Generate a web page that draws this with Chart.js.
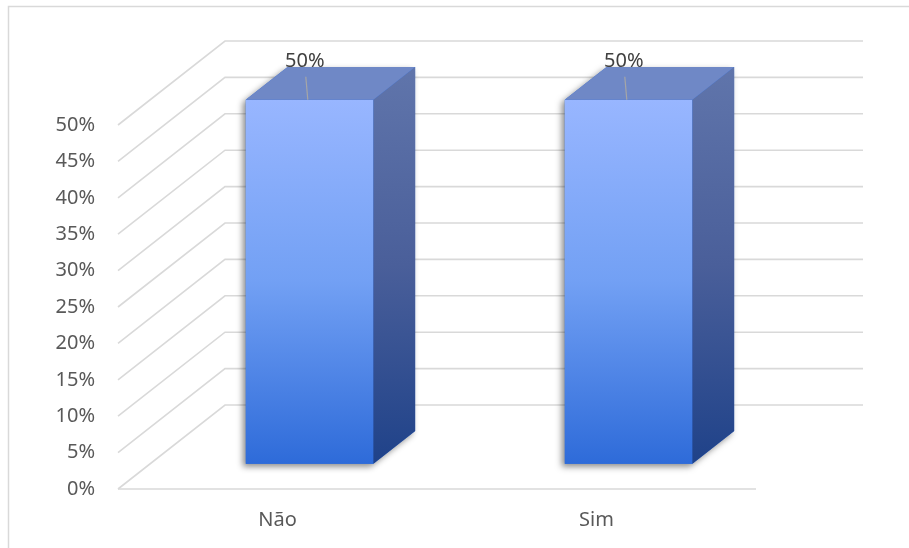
<!DOCTYPE html>
<html>
<head>
<meta charset="utf-8">
<script src="https://cdn.jsdelivr.net/npm/chart.js@4"></script>
<style>
  html, body { margin: 0; padding: 0; background: #ffffff; }
  #wrap { width: 909px; height: 548px; }
</style>
</head>
<body>
<div id="wrap"><canvas id="chart" width="909" height="548"></canvas></div>
<script>
/* --------------- Data --------------------- */
const categories = ["Não", "Sim"];
const shares = [0.5, 0.5];
const axisMax = 0.5;
const axisStep = 0.05;

/* --------------- 3D look (floor depth in px) --------------------- */
const DEPTH_X = 107;
const DEPTH_Y = 84;
const BAR_FRONT = 0.30; // where the bar front sits along the depth
const BAR_BACK = 0.69;
const GRID = "#d9d9d9";
const FONT = '20px "Noto Sans"';

const pct = (v) => Math.round(v * 100) + "%";

const threeD = {
  id: "threeD",
  beforeDraw(chart) {
    const ctx = chart.ctx;
    const area = chart.chartArea;
    const y = chart.scales.y;
    ctx.save();
    // outer frame
    ctx.strokeStyle = GRID;
    ctx.lineWidth = 1.5;
    ctx.beginPath();
    ctx.moveTo(8.5, 548);
    ctx.lineTo(8.5, 6.5);
    ctx.lineTo(909, 6.5);
    ctx.stroke();
    // side wall + back wall gridlines
    ctx.lineWidth = 1.6;
    y.ticks.forEach((t) => {
      const py = y.getPixelForValue(t.value);
      ctx.beginPath();
      ctx.moveTo(area.left, py);
      ctx.lineTo(area.left + DEPTH_X, py - DEPTH_Y);
      ctx.lineTo(area.right + DEPTH_X, py - DEPTH_Y);
      ctx.stroke();
    });
    // floor front edge
    const base = y.getPixelForValue(0);
    ctx.beginPath();
    ctx.moveTo(area.left, base);
    ctx.lineTo(area.right, base);
    ctx.stroke();
    ctx.restore();
  },
  afterDatasetsDraw(chart) {
    const ctx = chart.ctx;
    const meta = chart.getDatasetMeta(0);
    const fdx = DEPTH_X * BAR_FRONT, fdy = DEPTH_Y * BAR_FRONT;
    const bdx = DEPTH_X * (BAR_BACK - BAR_FRONT), bdy = DEPTH_Y * (BAR_BACK - BAR_FRONT);
    meta.data.forEach((el, i) => {
      const left = el.x - el.width / 2 + fdx;
      const right = el.x + el.width / 2 + fdx;
      const top = el.y - fdy;
      const bottom = el.base - fdy;

      ctx.save();
      // shadow silhouette
      ctx.shadowColor = "rgba(0,0,0,0.45)";
      ctx.shadowBlur = 6;
      ctx.shadowOffsetX = -3;
      ctx.shadowOffsetY = 3;
      ctx.fillStyle = "#2e6bd9";
      ctx.beginPath();
      ctx.moveTo(left, bottom);
      ctx.lineTo(left, top);
      ctx.lineTo(left + bdx, top - bdy);
      ctx.lineTo(right + bdx, top - bdy);
      ctx.lineTo(right + bdx, bottom - bdy);
      ctx.lineTo(right, bottom);
      ctx.closePath();
      ctx.fill();
      ctx.restore();

      // front face
      let g = ctx.createLinearGradient(0, top, 0, bottom);
      g.addColorStop(0, "#98b6ff");
      g.addColorStop(0.5, "#72a0f4");
      g.addColorStop(1, "#2e6bd9");
      ctx.fillStyle = g;
      ctx.fillRect(left, top, right - left, bottom - top);

      // side face
      g = ctx.createLinearGradient(0, top - bdy, 0, bottom);
      g.addColorStop(0, "#6075ab");
      g.addColorStop(0.5, "#4a5f9a");
      g.addColorStop(1, "#1f4289");
      ctx.fillStyle = g;
      ctx.beginPath();
      ctx.moveTo(right, top);
      ctx.lineTo(right + bdx, top - bdy);
      ctx.lineTo(right + bdx, bottom - bdy);
      ctx.lineTo(right, bottom);
      ctx.closePath();
      ctx.fill();

      // top face
      ctx.fillStyle = "#6f88c6";
      ctx.beginPath();
      ctx.moveTo(left, top);
      ctx.lineTo(left + bdx, top - bdy);
      ctx.lineTo(right + bdx, top - bdy);
      ctx.lineTo(right, top);
      ctx.closePath();
      ctx.fill();

      // data label with leader line
      const lx = left + 59;
      ctx.strokeStyle = "#a6a6a6";
      ctx.lineWidth = 1.2;
      ctx.beginPath();
      ctx.moveTo(lx + 1, top - 23);
      ctx.lineTo(lx + 3, top);
      ctx.stroke();
      ctx.fillStyle = "#404040";
      ctx.font = FONT;
      ctx.textAlign = "center";
      ctx.textBaseline = "middle";
      ctx.fillText(pct(shares[i]), lx, top - 39);
    });
  }
};

new Chart(document.getElementById("chart"), {
  type: "bar",
  data: {
    labels: categories,
    datasets: [{
      data: shares,
      backgroundColor: "rgba(0,0,0,0)",
      borderWidth: 0,
      categoryPercentage: 1,
      barPercentage: 0.4
    }]
  },
  options: {
    responsive: false,
    animation: false,
    layout: { padding: { left: 0, top: 125, right: 153, bottom: 0 } },
    plugins: {
      legend: { display: false },
      tooltip: { enabled: false }
    },
    scales: {
      x: {
        grid: { display: false, drawTicks: false },
        border: { display: false },
        ticks: { color: "#595959", font: { family: "Noto Sans", size: 20 }, padding: 19 },
        afterFit: (s) => { s.height = 59; }
      },
      y: {
        min: 0,
        max: axisMax,
        grid: { display: false, drawTicks: false },
        border: { display: false },
        ticks: {
          stepSize: axisStep,
          color: "#595959",
          font: { family: "Noto Sans", size: 20 },
          padding: 23,
          callback: (v) => pct(v)
        },
        afterFit: (s) => { s.width = 118; }
      }
    }
  },
  plugins: [threeD]
});
</script>
</body>
</html>
